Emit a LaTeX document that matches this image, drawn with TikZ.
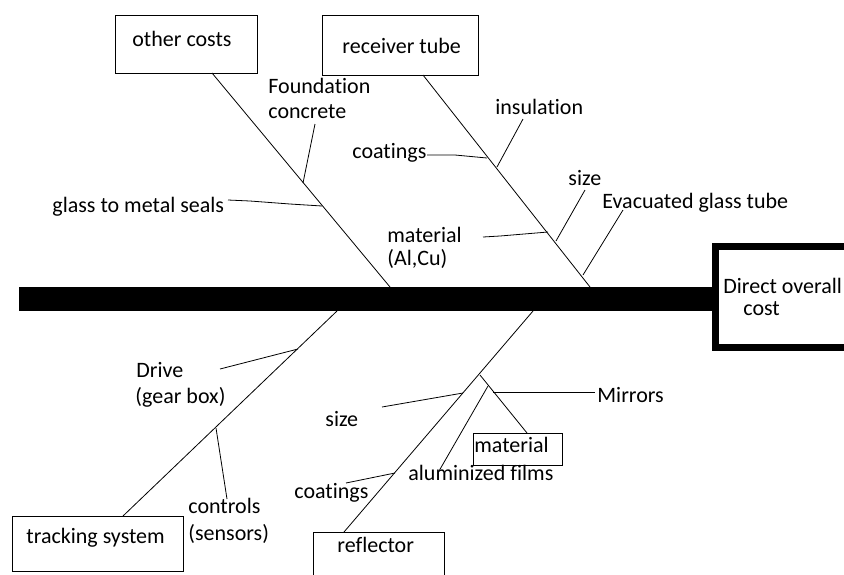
\documentclass[tikz,border=0pt]{standalone}
\usepackage{fontspec}
\setmainfont{Carlito}[Ligatures={NoCommon}]
\begin{document}
\begin{tikzpicture}[x=1pt,y=-1pt,line width=0.8pt,
  lbl/.style={anchor=base west,inner sep=0pt,font=\fontsize{22}{25}\selectfont},
  boxn/.style={draw,line width=1pt,anchor=north west,inner sep=0pt,outer sep=0pt},
  bone/.style={line width=0.8pt}]
\useasboundingbox (0,0) rectangle (844,574);
\clip (0,0) rectangle (844,574);
% spine and effect box
\node[fill=black,anchor=north west,inner sep=0pt,outer sep=0pt,minimum width=696pt,minimum height=24pt] (spine) at (19,287) {};
\node[draw,line width=7pt,anchor=north west,inner sep=0pt,outer sep=0pt,minimum width=160pt,minimum height=101pt] (effect) at (715.5,246.5) {};
\node[lbl] (t-direct) at (723,293) {Direct overall};
\node[lbl] (t-cost) at (743,315) {cost};
% category boxes
\node[boxn,minimum width=142pt,minimum height=58pt] (other) at (115,15) {};
\node[lbl] (t-other) at (132,46) {other costs};
\node[boxn,minimum width=156pt,minimum height=60pt] (recv) at (322,15) {};
\node[lbl] (t-recv) at (342,53) {receiver tube};
\node[boxn,minimum width=171pt,minimum height=55pt] (track) at (12,516) {};
\node[lbl] (t-track) at (26,543) {tracking system};
\node[boxn,minimum width=131pt,minimum height=50pt] (refl) at (313,532) {};
\node[lbl] (t-refl) at (337,552) {reflector};
\node[boxn,minimum width=89pt,minimum height=32pt] (matbox) at (473,433) {};
\node[lbl] (t-matbox) at (474,452) {material};
% labels
\node[lbl] (t-found1) at (268,93) {Foundation};
\node[lbl] (t-found2) at (268,118) {concrete};
\node[lbl] (t-glass) at (52,212) {glass to metal seals};
\node[lbl] (t-insul) at (495,114) {insulation};
\node[lbl] (t-coat1) at (352,158) {coatings};
\node[lbl] (t-size1) at (568,185) {size};
\node[lbl] (t-evac) at (602,208) {Evacuated glass tube};
\node[lbl] (t-mat1) at (387,242) {material};
\node[lbl] (t-mat2) at (387,265) {(Al,Cu)};
\node[lbl] (t-drive1) at (136,377) {Drive};
\node[lbl] (t-drive2) at (135,403) {(gear box)};
\node[lbl] (t-ctrl1) at (188,513) {controls};
\node[lbl] (t-ctrl2) at (188,540) {(sensors)};
\node[lbl] (t-size2) at (325,426) {size};
\node[lbl] (t-coat2) at (294,498) {coatings};
\node[lbl] (t-alum) at (408,480) {aluminized films};
\node[lbl] (t-mirr) at (597,402) {Mirrors};
% coordinates
\coordinate (b1s) at (212,73);   \coordinate (b1e) at (390,287);
\coordinate (f1a) at (315,124);  \coordinate (f1b) at (303,183);
\coordinate (g1a) at (228,200);  \coordinate (g1m) at (250,201); \coordinate (g1n) at (290,204); \coordinate (g1b) at (322,206);
\coordinate (b2s) at (423,75);   \coordinate (b2e) at (590,287);
\coordinate (in1a) at (523,119); \coordinate (in1b) at (497,167);
\coordinate (c1a) at (427,155);  \coordinate (c1m) at (455,155); \coordinate (c1b) at (487,158);
\coordinate (s1a) at (585,190);  \coordinate (s1b) at (556,241);
\coordinate (m1a) at (483,237);  \coordinate (m1m) at (500,236); \coordinate (m1b) at (548,232);
\coordinate (e1a) at (623,210);  \coordinate (e1b) at (583,275);
\coordinate (b3s) at (337,311);  \coordinate (b3e) at (123,516);
\coordinate (d1a) at (220,369);  \coordinate (d1b) at (298,349);
\coordinate (k1a) at (216,428);  \coordinate (k1b) at (227,499);
\coordinate (b4s) at (533,311);  \coordinate (b4e) at (344,532);
\coordinate (s2a) at (382,407);  \coordinate (s2b) at (463,393);
\coordinate (c2a) at (346,483);  \coordinate (c2b) at (395,473);
\coordinate (r1a) at (480,375);  \coordinate (r1b) at (527,433);
\coordinate (mi1a) at (493,392); \coordinate (mi1b) at (595,392);
\coordinate (al1a) at (488,386); \coordinate (al1b) at (439,471);
% bones
\draw[bone] (b1s) -- (b1e);
\draw[bone] (f1a) -- (f1b);
\draw[bone] (g1a) -- (g1m) -- (g1n) -- (g1b);
\draw[bone] (b2s) -- (b2e);
\draw[bone] (in1a) -- (in1b);
\draw[bone] (c1a) -- (c1m) -- (c1b);
\draw[bone] (s1a) -- (s1b);
\draw[bone] (m1a) -- (m1m) -- (m1b);
\draw[bone] (e1a) -- (e1b);
\draw[bone] (b3s) -- (b3e);
\draw[bone] (d1a) -- (d1b);
\draw[bone] (k1a) -- (k1b);
\draw[bone] (b4s) -- (b4e);
\draw[bone] (s2a) -- (s2b);
\draw[bone] (c2a) -- (c2b);
\draw[bone] (r1a) -- (r1b);
\draw[bone] (mi1a) -- (mi1b);
\draw[bone] (al1a) -- (al1b);
\end{tikzpicture}
\end{document}
